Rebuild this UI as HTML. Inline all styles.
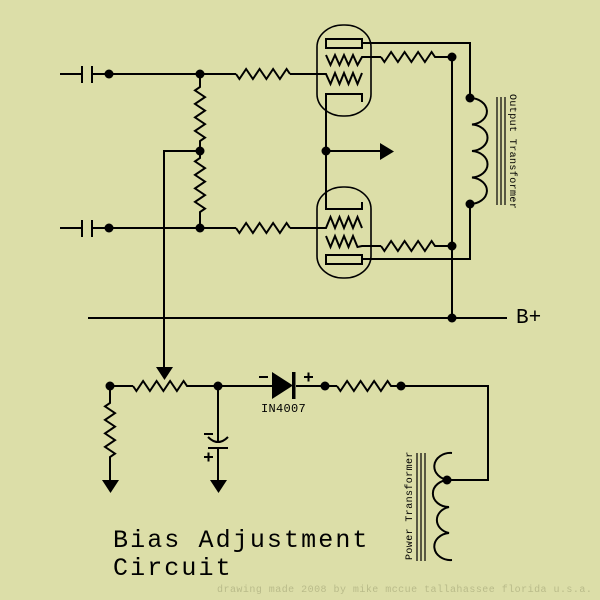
<!DOCTYPE html>
<html><head><meta charset="utf-8"><style>
html,body{margin:0;padding:0;background:#dcdea8;}
svg{display:block;}
text{font-family:"Liberation Mono","DejaVu Sans Mono",monospace;}
</style></head><body>
<svg width="600" height="600" viewBox="0 0 600 600" xmlns="http://www.w3.org/2000/svg">
<rect width="600" height="600" fill="#dcdea8"/>
<g fill="none" stroke="#000" stroke-width="2" stroke-linejoin="miter">
<!-- top input -->
<path d="M60,74 L82,74 M82,66 L82,83 M92,66 L92,83 M92,74 L236,74"/>
<path d="M236,74 L239.4,79 L246.1,69 L252.9,79 L259.6,69 L266.4,79 L273.1,69 L279.9,79 L286.6,69 L290,74"/>
<path d="M290,74 L326,74 L330.5,84 L335,73 L339.5,84 L344,73 L348.5,84 L353,73 L357.5,84 L362,73"/>
<!-- bottom input -->
<path d="M60,228 L82,228 M82,220 L82,237 M92,220 L92,237 M92,228 L236,228"/>
<path d="M236,228 L239.4,233 L246.1,223 L252.9,233 L259.6,223 L266.4,233 L273.1,223 L279.9,233 L286.6,223 L290,228"/>
<path d="M290,228 L326,228 L330.5,217 L335,228 L339.5,217 L344,228 L348.5,217 L353,228 L357.5,217 L362,228"/>
<!-- divider -->
<path d="M200,74 L200,87 L195,90.4 L205,97.1 L195,103.9 L205,110.6 L195,117.4 L205,124.1 L195,130.9 L205,137.6 L200,141 L200,158 L195,161.4 L205,168.1 L195,174.9 L205,181.6 L195,188.4 L205,195.1 L195,201.9 L205,208.6 L200,212 L200,228"/>
<path d="M200,151 L164,151 L164,368"/>
<!-- upper tube -->
<rect x="326" y="39" width="36" height="9"/>
<path d="M326,55 L330.5,65 L335,55 L339.5,65 L344,55 L348.5,65 L353,55 L357.5,65 L362,57 L381,57"/>
<path d="M381,57 L384.4,62 L391.1,52 L397.9,62 L404.6,52 L411.4,62 L418.1,52 L424.9,62 L431.6,52 L435,57 L452,57"/>
<path d="M362,102 L362,94 L326,94 L326,209 L362,209 L362,202"/>
<path d="M326,151 L381,151"/>
<!-- lower tube -->
<rect x="326" y="255" width="36" height="9"/>
<path d="M326,236 L330.5,247 L335,236 L339.5,247 L344,236 L348.5,247 L353,236 L357.5,247 L362,246 L381,246"/>
<path d="M381,246 L384.4,251 L391.1,241 L397.9,251 L404.6,241 L411.4,251 L418.1,241 L424.9,251 L431.6,241 L435,246 L452,246"/>
<!-- plate lines -->
<path d="M362,43 L470,43 L470,98"/>
<path d="M470,204 L470,259 L362,259"/>
<path d="M452,57 L452,318"/>
<!-- output coil -->
<path d="M470,98 A17,13.3 0 0 1 472,124.5 A17,13.3 0 0 1 472,151 A17,13.3 0 0 1 472,177.5 A17,13.3 0 0 1 470,204"/>
<!-- B+ -->
<path d="M88,318 L507,318"/>
<!-- bottom -->
<path d="M110,386 L133,386"/>
<path d="M133,386 L136.4,391 L143.1,381 L149.9,391 L156.6,381 L163.4,391 L170.1,381 L176.9,391 L183.6,381 L187,386 L272,386"/>
<path d="M110,386 L110,403 L105,406.4 L115,413.1 L105,419.9 L115,426.6 L105,433.4 L115,440.1 L105,446.9 L115,453.6 L110,457 L110,481"/>
<path d="M218,386 L218,442"/>
<path d="M208,437 Q218,447 228,437"/>
<path d="M208,448 L228,448 M218,448 L218,481"/>
<path d="M296,386 L337,386"/>
<path d="M337,386 L340.4,391 L347.1,381 L353.9,391 L360.6,381 L367.4,391 L374.1,381 L380.9,391 L387.6,381 L391,386 L488,386 L488,480 L447,480"/>
<!-- power coil -->
<path d="M452,453 A16,13.4 0 0 0 449,480 A16,13.4 0 0 0 449,507 A16,13.4 0 0 0 449,533 A16,13.4 0 0 0 452,560"/>
</g>
<g fill="none" stroke="#000" stroke-width="1.6">
<rect x="317" y="25" width="54" height="91" rx="26" ry="22"/>
<rect x="317" y="187" width="54" height="91" rx="26" ry="22"/>
</g>
<g stroke="#000" stroke-width="1.2">
<path d="M497,97 L497,205 M501,97 L501,205 M505,97 L505,205"/>
<path d="M417,453 L417,561 M421,453 L421,561 M425,453 L425,561"/>
</g>
<g fill="#000">
<circle cx="109" cy="74" r="4.5"/>
<circle cx="200" cy="74" r="4.5"/>
<circle cx="200" cy="151" r="4.5"/>
<circle cx="109" cy="228" r="4.5"/>
<circle cx="200" cy="228" r="4.5"/>
<circle cx="326" cy="151" r="4.5"/>
<circle cx="452" cy="57" r="4.5"/>
<circle cx="452" cy="246" r="4.5"/>
<circle cx="452" cy="318" r="4.5"/>
<circle cx="470" cy="98" r="4.5"/>
<circle cx="470" cy="204" r="4.5"/>
<circle cx="110" cy="386" r="4.5"/>
<circle cx="218" cy="386" r="4.5"/>
<circle cx="325" cy="386" r="4.5"/>
<circle cx="401" cy="386" r="4.5"/>
<circle cx="447" cy="480" r="4.5"/>
<polygon points="380,143 380,160 394,151.5"/>
<polygon points="156,367 173,367 164.5,380"/>
<polygon points="102,480 119,480 110.5,493"/>
<polygon points="210,480 227,480 218.5,493"/>
<polygon points="272,372 272,399 293,385.5"/>
<rect x="292" y="372" width="3.5" height="27"/>
<rect x="259" y="376" width="9" height="2"/>
<rect x="304" y="376" width="9" height="2"/>
<rect x="307.5" y="372.5" width="2" height="9"/>
<rect x="204" y="433" width="9" height="2"/>
<rect x="204" y="456" width="9" height="2"/>
<rect x="207.5" y="452.5" width="2" height="9"/>
</g>
<text x="516" y="323" font-size="21" fill="#000">B+</text>
<text x="261" y="412" font-size="12" fill="#000" letter-spacing="0.3">IN4007</text>
<text x="510" y="94" font-size="10" fill="#000" letter-spacing="0.4" transform="rotate(90 510 94)">Output Transformer</text>
<text x="412" y="560" font-size="10" fill="#000" letter-spacing="0.4" transform="rotate(-90 412 560)">Power Transformer</text>
<text x="113" y="547" font-size="25" fill="#000" letter-spacing="2.1">Bias Adjustment</text>
<text x="113" y="575" font-size="25" fill="#000" letter-spacing="2.1">Circuit</text>
<text x="217" y="592" font-size="10" fill="#b9bb8a" letter-spacing="0.47">drawing made 2008 by mike mccue tallahassee florida u.s.a.</text>
</svg>
</body></html>
